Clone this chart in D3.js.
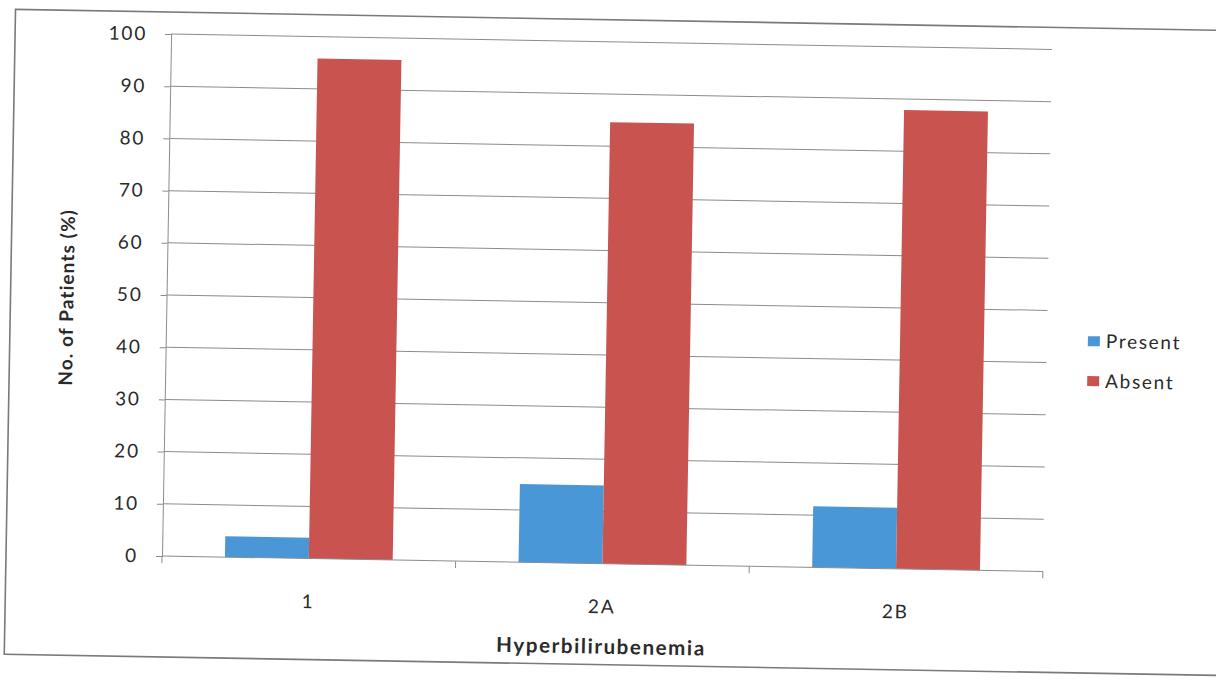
<!DOCTYPE html>
<html>
<head>
<meta charset="utf-8">
<script src="https://cdn.jsdelivr.net/npm/d3@7"></script>
<style>
  html, body { margin: 0; padding: 0; background: #ffffff; }
  svg { display: block; }
  text { font-family: Lato, "Open Sans", "DejaVu Sans", sans-serif; fill: #2a2a2a; }
</style>
</head>
<body>
<svg id="chart" width="1216" height="691"></svg>
<script>
// Share of patients with / without hyperbilirubinemia by group
const categories = ["1", "2A", "2B"];
const seriesNames = ["Present", "Absent"];
const presentValues = [4, 15, 11.7];
const absentValues = [95.8, 84.6, 87.9];
const yTickValues = [0, 10, 20, 30, 40, 50, 60, 70, 80, 90, 100];
const seriesColors = ["#4a97d8", "#c9534f"];

const svg = d3.select("#chart");
const plot = { left: 162, right: 1043, top: 34, bottom: 556 };
const FONT = "Lato, 'Open Sans', sans-serif";

// The printed page sits at a slight clockwise tilt
const page = svg.append("g")
  .attr("transform", `rotate(1.0, ${plot.left}, ${plot.bottom})`);

// outer chart border
page.append("rect")
  .attr("x", 6).attr("y", 12)
  .attr("width", 1240).attr("height", 645)
  .attr("fill", "none")
  .attr("stroke", "#7a7a7a")
  .attr("stroke-width", 1.6);

const x = d3.scaleBand().domain(categories).range([plot.left, plot.right]).padding(0);
const xs = d3.scaleBand().domain(seriesNames).range([0, x.bandwidth()])
  .paddingInner(0).paddingOuter(0.75);
const y = d3.scaleLinear().domain([0, 100]).range([plot.bottom, plot.top]);
const color = d3.scaleOrdinal().domain(seriesNames).range(seriesColors);

// horizontal gridlines
page.append("g")
  .selectAll("line")
  .data(yTickValues.filter(v => v > 0))
  .join("line")
  .attr("x1", plot.left).attr("x2", plot.right)
  .attr("y1", d => y(d)).attr("y2", d => y(d))
  .attr("stroke", "#8c8c8c").attr("stroke-width", 1);

// y axis
const yAxis = page.append("g")
  .attr("transform", `translate(${plot.left},0)`)
  .call(d3.axisLeft(y).tickValues(yTickValues).tickSize(6).tickPadding(18));
yAxis.select(".domain").attr("stroke", "#8c8c8c");
yAxis.selectAll(".tick line").attr("stroke", "#8c8c8c");
yAxis.selectAll(".tick text")
  .attr("font-size", 19).attr("fill", "#2a2a2a")
  .attr("letter-spacing", 1.8)
  .style("font-family", FONT);

// bars
const rows = categories.map((c, i) => ({
  cat: c,
  vals: [
    { key: "Present", value: presentValues[i] },
    { key: "Absent", value: absentValues[i] }
  ]
}));

page.append("g")
  .selectAll("g")
  .data(rows)
  .join("g")
  .attr("transform", d => `translate(${x(d.cat)},0)`)
  .selectAll("rect")
  .data(d => d.vals)
  .join("rect")
  .attr("x", d => xs(d.key))
  .attr("width", xs.bandwidth())
  .attr("y", d => y(d.value))
  .attr("height", d => y(0) - y(d.value))
  .attr("fill", d => color(d.key));

// x axis: baseline, category boundary ticks, labels
const xAxis = page.append("g")
  .attr("transform", `translate(0,${plot.bottom})`)
  .call(d3.axisBottom(x).tickSize(0).tickPadding(36));
xAxis.select(".domain").remove();
xAxis.selectAll(".tick text")
  .attr("font-size", 19).attr("fill", "#2a2a2a")
  .attr("letter-spacing", 1.8)
  .style("font-family", FONT);

page.append("line")
  .attr("x1", plot.left).attr("x2", plot.right)
  .attr("y1", y(0)).attr("y2", y(0))
  .attr("stroke", "#8c8c8c").attr("stroke-width", 1);

const boundaries = categories.map(c => x(c)).concat([x.range()[1]]);
page.append("g")
  .selectAll("line")
  .data(boundaries)
  .join("line")
  .attr("x1", d => d).attr("x2", d => d)
  .attr("y1", y(0)).attr("y2", y(0) + 7)
  .attr("stroke", "#8c8c8c");

// axis titles
page.append("text")
  .attr("x", (plot.left + plot.right) / 2)
  .attr("y", plot.bottom + 90)
  .attr("text-anchor", "middle")
  .attr("font-size", 20.5)
  .attr("font-weight", "bold")
  .attr("letter-spacing", 1.6)
  .text("Hyperbilirubenemia");

page.append("text")
  .attr("transform", `translate(69, ${(plot.top + plot.bottom) / 2 + 4}) rotate(-90)`)
  .attr("text-anchor", "middle")
  .attr("font-size", 19)
  .attr("font-weight", "bold")
  .attr("letter-spacing", 1.1)
  .text("No. of Patients (%)");

// legend
const legend = page.append("g")
  .attr("transform", "translate(1084, 320)")
  .selectAll("g")
  .data(seriesNames)
  .join("g")
  .attr("transform", (d, i) => `translate(0, ${i * 40})`);
legend.append("rect")
  .attr("width", 12).attr("height", 10)
  .attr("fill", d => color(d));
legend.append("text")
  .attr("x", 18).attr("y", 5)
  .attr("dy", "0.35em")
  .attr("font-size", 19)
  .attr("letter-spacing", 1.7)
  .text(d => d);
</script>
</body>
</html>
